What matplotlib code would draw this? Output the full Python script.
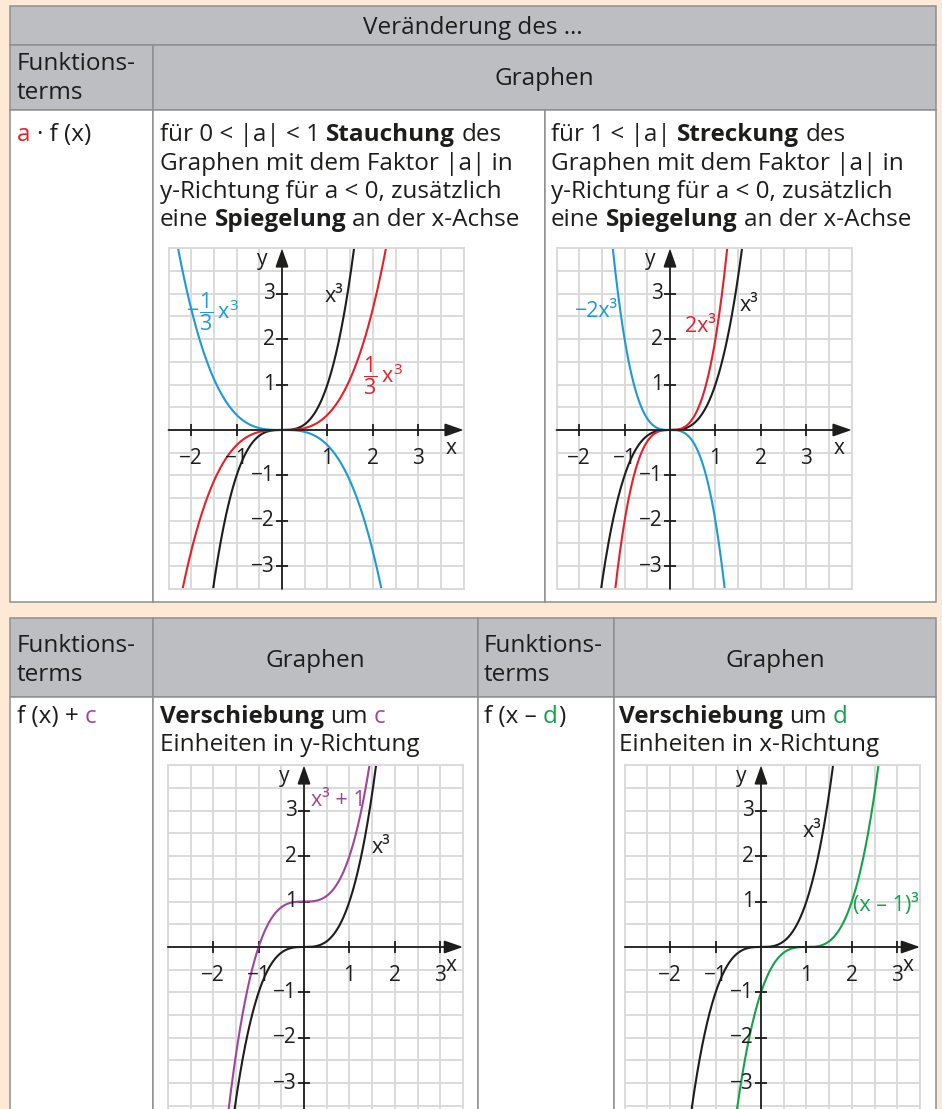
import numpy as np
import matplotlib.pyplot as plt
from matplotlib.patches import Rectangle

W, H, DPI = 942, 1109, 100

PEACH = "#fde9d6"
HEAD = "#bdbec2"
BORDER = "#8f8f8f"
GRID = "#dadada"
INK = "#1d1d1b"
RED = "#e4202a"
BLUE = "#1b9ad6"
PURPLE = "#a0469a"
GREEN = "#13a24a"

FONT = ["Open Sans", "DejaVu Sans"]
plt.rcParams.update({
    "font.family": FONT,
    "mathtext.fontset": "custom",
    "mathtext.rm": "Open Sans",
    "mathtext.it": "Open Sans",
    "mathtext.bf": "Open Sans:bold",
})

BODY = 17.5   # Fließtext in den Zellen
HEADSZ = 17.5  # Kopfzeilen
TICK = 15     # Achsenbeschriftung
LABEL = 15.5  # Funktionsbeschriftung

# Faktoren / Verschiebungen der Funktionen
factors_small = [1, 1 / 3, -1 / 3]
factors_big = [1, 2, -2]
shift_c = 1
shift_d = 1

# Achsenbereiche der vier Koordinatensysteme
xlim_top, ylim_top = (-2.5, 4), (-3.5, 4)
xlim_bot, ylim_bot = (-3, 3.5), (-4, 4)
xticks_top = [-2, -1, 1, 2, 3]
xticks_bot = [-2, -1, 1, 2, 3]
yticks = [-3, -2, -1, 1, 2, 3]
UNIT = 45.4  # Pixel pro Einheit

fig = plt.figure(figsize=(W / DPI, H / DPI), dpi=DPI)
fig.patch.set_facecolor(PEACH)
bg = fig.add_axes([0, 0, 1, 1])
bg.set_xlim(0, W)
bg.set_ylim(H, 0)
bg.axis("off")
renderer = fig.canvas.get_renderer()


def box(x0, y0, x1, y1, fc):
    bg.add_patch(Rectangle((x0, y0), x1 - x0, y1 - y0, facecolor=fc,
                           edgecolor=BORDER, lw=1.1))


def text_width(s, size, weight="normal"):
    t = bg.text(0, 0, s, fontsize=size, fontweight=weight)
    w = t.get_window_extent(renderer=renderer).width
    t.remove()
    return w


def runs(x, y, parts, size=BODY):
    """Zeile aus mehreren Textstücken (normal/fett, farbig) hintereinander."""
    for txt, bold, color in parts:
        weight = "bold" if bold else "normal"
        sp = text_width("n n", size, weight) - text_width("nn", size, weight)
        lead = len(txt) - len(txt.lstrip(" "))
        trail = len(txt) - len(txt.rstrip(" "))
        x += lead * sp
        core = txt.strip(" ")
        t = bg.text(x, y, core, fontsize=size, fontweight=weight, color=color,
                    va="baseline", ha="left")
        x += t.get_window_extent(renderer=renderer).width + trail * sp


# ---------- obere Tabelle ----------
L, R = 10, 936
box(L, 6, R, 45, HEAD)
box(L, 45, 153, 110, HEAD)
box(153, 45, R, 110, HEAD)
box(L, 110, 153, 602, "white")
box(153, 110, 545, 602, "white")
box(545, 110, R, 602, "white")

bg.text((L + R) / 2, 34, "Veränderung des …", fontsize=HEADSZ, ha="center",
        va="baseline", color=INK)
bg.text(17, 70, "Funktions-", fontsize=HEADSZ, va="baseline", color=INK)
bg.text(17, 99, "terms", fontsize=HEADSZ, va="baseline", color=INK)
bg.text((153 + R) / 2, 85, "Graphen", fontsize=HEADSZ, ha="center",
        va="baseline", color=INK)

runs(17, 141, [("a", False, RED), (" · f (x)", False, INK)])
lines_left = [
    [("für 0 < |a| < 1 ", False, INK), ("Stauchung", True, INK), (" des", False, INK)],
    [("Graphen mit dem Faktor |a| in", False, INK)],
    [("y-Richtung für a < 0, zusätzlich", False, INK)],
    [("eine ", False, INK), ("Spiegelung", True, INK), (" an der x-Achse", False, INK)],
]
lines_right = [
    [("für 1 < |a| ", False, INK), ("Streckung", True, INK), (" des", False, INK)],
    [("Graphen mit dem Faktor |a| in", False, INK)],
    [("y-Richtung für a < 0, zusätzlich", False, INK)],
    [("eine ", False, INK), ("Spiegelung", True, INK), (" an der x-Achse", False, INK)],
]
for i, (pl, pr) in enumerate(zip(lines_left, lines_right)):
    runs(160, 141 + 28.5 * i, pl)
    runs(551, 141 + 28.5 * i, pr)

# ---------- untere Tabelle ----------
box(L, 618, 153, 697, HEAD)
box(153, 618, 478, 697, HEAD)
box(478, 618, 614, 697, HEAD)
box(614, 618, R, 697, HEAD)
for x0, x1 in [(L, 153), (153, 478), (478, 614), (614, R)]:
    box(x0, 697, x1, H + 20, "white")

for x0 in (17, 484):
    bg.text(x0, 652, "Funktions-", fontsize=HEADSZ, va="baseline", color=INK)
    bg.text(x0, 681, "terms", fontsize=HEADSZ, va="baseline", color=INK)
for x0, x1 in [(153, 478), (614, R)]:
    bg.text((x0 + x1) / 2, 667, "Graphen", fontsize=HEADSZ, ha="center",
            va="baseline", color=INK)

runs(17, 723, [("f (x) + ", False, INK), ("c", False, PURPLE)])
runs(160, 723, [("Verschiebung", True, INK), (" um ", False, INK), ("c", False, PURPLE)])
runs(160, 751, [("Einheiten in y-Richtung", False, INK)])
runs(484, 723, [("f (x – ", False, INK), ("d", False, GREEN), (")", False, INK)])
runs(619, 723, [("Verschiebung", True, INK), (" um ", False, INK), ("d", False, GREEN)])
runs(619, 751, [("Einheiten in x-Richtung", False, INK)])


# ---------- Koordinatensysteme ----------
def graph(ox, oy, xlim, ylim, xticks):
    px0 = ox + xlim[0] * UNIT
    px1 = ox + xlim[1] * UNIT
    py0 = oy - ylim[1] * UNIT
    py1 = oy - ylim[0] * UNIT
    ax = fig.add_axes([px0 / W, 1 - py1 / H, (px1 - px0) / W, (py1 - py0) / H])
    ax.set_xlim(*xlim)
    ax.set_ylim(*ylim)
    ax.set_facecolor("white")
    ax.set_xticks(np.arange(xlim[0], xlim[1] + 0.01, 0.5))
    ax.set_yticks(np.arange(ylim[0], ylim[1] + 0.01, 0.5))
    ax.grid(True, color=GRID, lw=1.4)
    ax.set_axisbelow(True)
    ax.tick_params(length=0, labelbottom=False, labelleft=False)
    for s in ax.spines.values():
        s.set_color(GRID)
        s.set_linewidth(1.4)

    head = "-|>,head_length=0.8,head_width=0.28"
    ax.annotate("", xy=(xlim[1], 0), xytext=(xlim[0], 0),
                arrowprops=dict(arrowstyle=head, color=INK, lw=1.3,
                                mutation_scale=14, shrinkA=0, shrinkB=0))
    ax.annotate("", xy=(0, ylim[1]), xytext=(0, ylim[0]),
                arrowprops=dict(arrowstyle=head, color=INK, lw=1.3,
                                mutation_scale=14, shrinkA=0, shrinkB=0))
    ax.vlines(xticks, -0.13, 0.13, color=INK, lw=1.3)
    ax.hlines(yticks, -0.13, 0.13, color=INK, lw=1.3)
    for t in xticks:
        ax.text(t, -0.62, f"{t}".replace("-", "−"), fontsize=TICK, ha="center",
                va="center", color=INK)
    for t in yticks:
        ax.text(-0.16, t, f"{t}".replace("-", "−"), fontsize=TICK, ha="right",
                va="center", color=INK)
    ax.text(-0.44, ylim[1] - 0.24, "y", fontsize=TICK, ha="center", va="center", color=INK)
    ax.text(xlim[1] - 0.27, -0.4, "x", fontsize=TICK, ha="center", va="center", color=INK)
    return ax


LW = 1.5

# a · f(x), 0 < |a| < 1
ax1 = graph(282, 430, xlim_top, ylim_top, xticks_top)
xs = np.linspace(*xlim_top, 600)
for a, c in zip(factors_small, [INK, RED, BLUE]):
    ax1.plot(xs, a * xs ** 3, color=c, lw=LW)
ax1.text(1.14, 2.95, "x³", fontsize=LABEL, ha="center", va="center", color=INK)
ax1.text(2.22, 1.2, r"$\dfrac{1}{3}\,x^3$", fontsize=LABEL, ha="center", va="center", color=RED)
ax1.text(-1.97, 2.62, "−", fontsize=LABEL, ha="center", va="center", color=BLUE)
ax1.text(-1.38, 2.6, r"$\dfrac{1}{3}\,x^3$", fontsize=LABEL, ha="center", va="center", color=BLUE)

# a · f(x), |a| > 1
ax2 = graph(670, 430, xlim_top, ylim_top, xticks_top)
for a, c in zip(factors_big, [INK, RED, BLUE]):
    ax2.plot(xs, a * xs ** 3, color=c, lw=LW)
ax2.text(1.74, 2.75, "x³", fontsize=LABEL, ha="center", va="center", color=INK)
ax2.text(0.68, 2.27, "2x³", fontsize=LABEL, ha="center", va="center", color=RED)
ax2.text(-1.62, 2.6, "−2x³", fontsize=LABEL, ha="center", va="center", color=BLUE)

# f(x) + c
ax3 = graph(304, 947, xlim_bot, ylim_bot, xticks_bot)
xb = np.linspace(*xlim_bot, 600)
ax3.plot(xb, xb ** 3, color=INK, lw=LW)
ax3.plot(xb, xb ** 3 + shift_c, color=PURPLE, lw=LW)
ax3.text(1.7, 2.2, "x³", fontsize=LABEL, ha="center", va="center", color=INK)
ax3.text(0.76, 3.22, "x³ + 1", fontsize=LABEL, ha="center", va="center", color=PURPLE)

# f(x - d)
ax4 = graph(761, 947, xlim_bot, ylim_bot, xticks_bot)
ax4.plot(xb, xb ** 3, color=INK, lw=LW)
ax4.plot(xb, (xb - shift_d) ** 3, color=GREEN, lw=LW)
ax4.text(1.12, 2.55, "x³", fontsize=LABEL, ha="center", va="center", color=INK)
ax4.text(2.74, 0.93, "(x – 1)³", fontsize=LABEL, ha="center", va="center", color=GREEN)

fig.savefig("out.png", dpi=DPI, facecolor=PEACH)
